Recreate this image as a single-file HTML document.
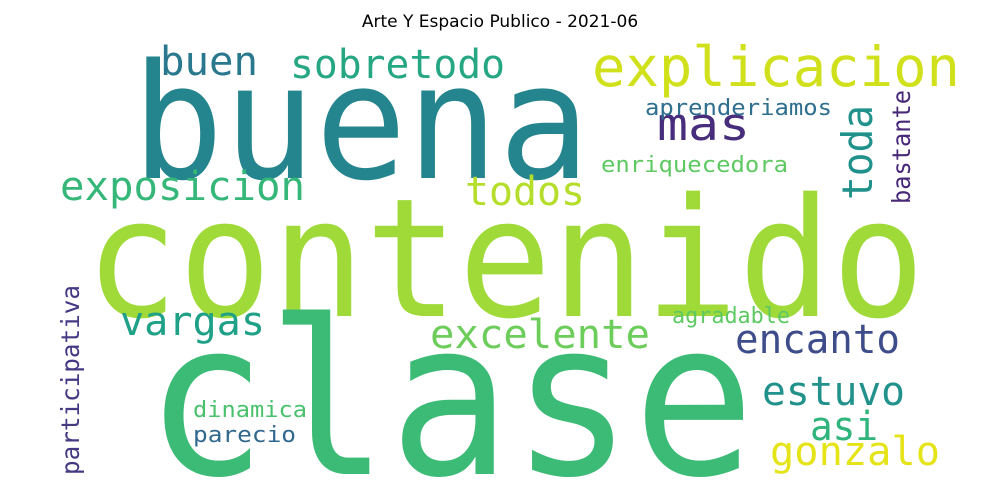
<!DOCTYPE html>
<html><head><meta charset="utf-8"><style>
html,body{margin:0;padding:0;background:#fff;width:1000px;height:500px;overflow:hidden}
svg{display:block}
svg text{font-family:"DejaVu Sans Mono","Liberation Mono",monospace}
</style></head><body>
<svg width="1000" height="500" viewBox="0 0 1000 500">
<text x="500" y="27" text-anchor="middle" style="font-family:'DejaVu Sans','Liberation Sans',sans-serif" font-size="17" fill="#000">Arte Y Espacio Publico - 2021-06</text>
<g id="words"></g>
</svg>
<script>
const words = ["buena","contenido","clase","explicacion","buen","sobretodo","mas","aprenderiamos","toda","bastante","enriquecedora","exposicion","todos","vargas","excelente","agradable","encanto","estuvo","asi","gonzalo","participativa","dinamica","parecio"];
const sizes = [160,165,215,55,40,40,45,22,42,25,22,40,40,40,40,22,40,40,40,40,25,22,22];
const colors = ["#25858e","#a0da39","#3bbb75","#d0e11c","#2a788e","#26a784","#472d7b","#2e6e8e","#21918c","#482878","#5ec962","#35b779","#b5de2b","#1fa187","#6ccd5a","#5ec962","#3e4c8a","#21918c","#2fb47c","#e5e419","#443983","#4ac16d","#31688e"];
const layout = [
 [132,178,458,0],[85,316,840,0],[145,474,610,0],[592,86,368,0],[160,75,98,0],[290,78,215,0],
 [657,140,93,0],[645,115,187,0],[872,200,95,1],[910,204,114,1],[601,172,187,0],[60,200,245,0],
 [465,205,120,0],[120,335,145,0],[430,348,220,0],[672,323,118,0],[735,353,165,0],[762,405,143,0],
 [810,440,68,0],[770,465,170,0],[79,475,190,1],[193,417,114,0],[193,442,103,0]];
const g=document.getElementById('words');
words.forEach((w,i)=>{
 const [x,y,len,rot]=layout[i];
 const t=document.createElementNS('http://www.w3.org/2000/svg','text');
 t.setAttribute('x',x);t.setAttribute('y',y);
 t.setAttribute('font-size',sizes[i]);t.setAttribute('fill',colors[i]);
 t.setAttribute('textLength',len);t.setAttribute('lengthAdjust','spacingAndGlyphs');
 if(rot)t.setAttribute('transform','rotate(-90 '+x+' '+y+')');
 t.textContent=w;
 
 
 g.appendChild(t);
});
</script>
</body></html>
